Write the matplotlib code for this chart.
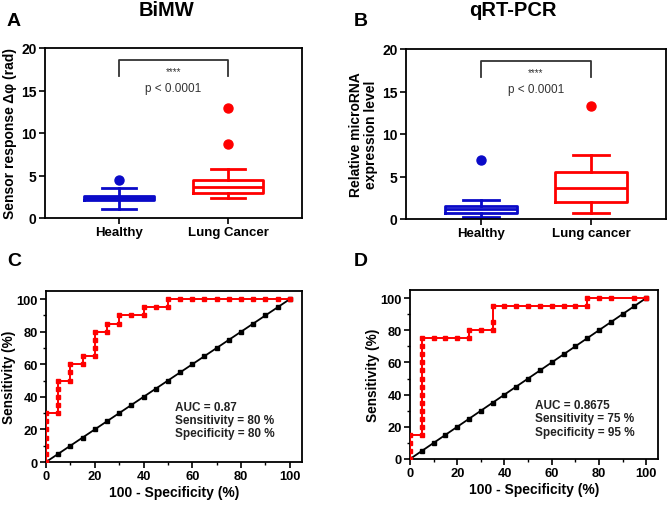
import matplotlib
matplotlib.use("Agg")
import matplotlib.pyplot as plt
from matplotlib.ticker import AutoMinorLocator, MultipleLocator

plt.rcParams['font.family'] = ['Liberation Sans', 'DejaVu Sans']

# ---------------- data ----------------
categories_A = ["Healthy", "Lung Cancer"]
categories_B = ["Healthy", "Lung cancer"]

# BiMW box statistics
A_q1 = [2.10, 3.00]
A_med = [2.35, 3.60]
A_q3 = [2.62, 4.48]
A_wlo = [1.02, 2.30]
A_whi = [3.52, 5.80]
A_fliers = [[4.45], [8.70, 12.90]]

# qRT-PCR box statistics
B_q1 = [0.70, 1.95]
B_med = [1.13, 3.69]
B_q3 = [1.49, 5.50]
B_wlo = [0.18, 0.67]
B_whi = [2.18, 7.53]
B_fliers = [[7.00], [13.25]]

# ROC curve C (100 - specificity, sensitivity)
C_fpr = [0, 0, 0, 0, 0, 0, 0, 5, 5, 5, 5, 5, 10, 10, 10, 15, 15, 20, 20, 20, 20,
         25, 25, 30, 30, 35, 40, 40, 45, 50, 50, 55, 60, 65, 70, 75, 80, 85, 90, 95, 100]
C_tpr = [0, 5, 10, 15, 20, 25, 30, 30, 35, 40, 45, 50, 50, 55, 60, 60, 65, 65, 70, 75, 80,
         80, 85, 85, 90, 90, 90, 95, 95, 95, 100, 100, 100, 100, 100, 100, 100, 100, 100, 100, 100]

# ROC curve D
D_fpr = [0, 0, 0, 0, 5, 5, 5, 5, 5, 5, 5, 5, 5, 5, 5, 5, 5, 10, 15, 20, 25, 25, 30, 35, 35, 35,
         40, 45, 50, 55, 60, 65, 70, 75, 75, 80, 85, 95, 100]
D_tpr = [0, 5, 10, 15, 15, 20, 25, 30, 35, 40, 45, 50, 55, 60, 65, 70, 75, 75, 75, 75, 75, 80, 80, 80, 85, 95,
         95, 95, 95, 95, 95, 95, 95, 95, 100, 100, 100, 100, 100]

diag = list(range(0, 105, 5))

C_text = "AUC = 0.87\nSensitivity = 80 %\nSpecificity = 80 %"
D_text = "AUC = 0.8675\nSensitivity = 75 %\nSpecificity = 95 %"

BLUE = "#0a0ac8"
RED = "#ff0000"

fig = plt.figure(figsize=(6.67, 5.06), dpi=100)
W, H = 667, 506


def ax_px(l, t, r, b):
    return fig.add_axes([l / W, 1 - b / H, (r - l) / W, (b - t) / H])


def style(ax, labelsize):
    for s in ax.spines.values():
        s.set_linewidth(1.3)
        s.set_color("black")
    ax.tick_params(direction="out", width=1.2, length=4, labelsize=labelsize, pad=2)
    for lab in ax.get_xticklabels() + ax.get_yticklabels():
        lab.set_fontweight("bold")


def boxpanel(ax, cats, q1, med, q3, wlo, whi, fliers, ylabel):
    stats = []
    for i in range(len(cats)):
        stats.append(dict(q1=q1[i], med=med[i], q3=q3[i], whislo=wlo[i],
                          whishi=whi[i], fliers=fliers[i], label=cats[i]))
    colors = [BLUE, RED]
    for i, st in enumerate(stats):
        c = colors[i]
        ax.bxp([st], positions=[i], widths=0.65, showfliers=True,
               boxprops=dict(color=c, linewidth=2.0),
               medianprops=dict(color=c, linewidth=2.0),
               whiskerprops=dict(color=c, linewidth=2.0),
               capprops=dict(color=c, linewidth=2.0),
               capwidths=0.32,
               flierprops=dict(marker="o", markerfacecolor=c, markeredgecolor=c,
                               markersize=6.5, linestyle="none"))
    ax.set_xlim(-0.68, 1.68)
    ax.set_ylim(0, 20)
    ax.set_yticks([0, 5, 10, 15, 20])
    ax.set_xticks([0, 1])
    ax.set_xticklabels(cats)
    ax.set_ylabel(ylabel, fontsize=10, fontweight="bold", labelpad=3, linespacing=1.1)
    # significance bracket
    ax.plot([0, 0, 1, 1], [16.7, 18.6, 18.6, 16.7], color="#333333", lw=1.3)
    ax.text(0.5, 17.3, "****", ha="center", va="center", fontsize=7, color="#333333")
    ax.text(0.5, 15.3, "p < 0.0001", ha="center", va="center", fontsize=8.5, color="#333333")
    style(ax, 10)
    for lab in ax.get_xticklabels():
        lab.set_fontsize(9.5)


def rocpanel(ax, fpr, tpr, text, ty):
    ax.plot(diag, diag, color="black", lw=1.3, marker="s", markersize=2.6, zorder=2)
    ax.plot(fpr, tpr, color=RED, lw=1.4, marker="s", markersize=2.6, zorder=3)
    ax.set_xlim(0, 105)
    ax.set_ylim(0, 105)
    ax.xaxis.set_major_locator(MultipleLocator(20))
    ax.yaxis.set_major_locator(MultipleLocator(20))
    ax.xaxis.set_minor_locator(AutoMinorLocator(2))
    ax.yaxis.set_minor_locator(AutoMinorLocator(2))
    ax.tick_params(which="minor", direction="out", width=1.0, length=2.5)
    ax.set_xlabel("100 - Specificity (%)", fontsize=10, fontweight="bold", labelpad=2)
    ax.set_ylabel("Sensitivity (%)", fontsize=9.8, fontweight="bold", labelpad=0.5)
    ax.text(53, ty, text, ha="left", va="center", fontsize=8.5, fontweight="bold",
            linespacing=1.15, color="#222222")
    style(ax, 9.3)


axA = ax_px(45, 49, 302, 219)
boxpanel(axA, categories_A, A_q1, A_med, A_q3, A_wlo, A_whi, A_fliers,
         "Sensor response Δφ (rad)")
axB = ax_px(406, 50, 666, 220)
boxpanel(axB, categories_B, B_q1, B_med, B_q3, B_wlo, B_whi, B_fliers,
         "Relative microRNA\nexpression level")
axC = ax_px(46, 292, 302, 463)
rocpanel(axC, C_fpr, C_tpr, C_text, 25.7)
axD = ax_px(410, 291, 658, 460)
rocpanel(axD, D_fpr, D_tpr, D_text, 25.3)

fig.text(167 / W, 1 - 11 / H, "BiMW", ha="center", va="center", fontsize=14.5, fontweight="bold")
fig.text(513 / W, 1 - 11 / H, "qRT-PCR", ha="center", va="center", fontsize=14.5, fontweight="bold")
for lab, x, y in [("A", 14, 21), ("B", 361, 21), ("C", 14, 262), ("D", 361, 262)]:
    fig.text(x / W, 1 - y / H, lab, ha="center", va="center", fontsize=14, fontweight="bold")

fig.savefig("out.png", dpi=100)
